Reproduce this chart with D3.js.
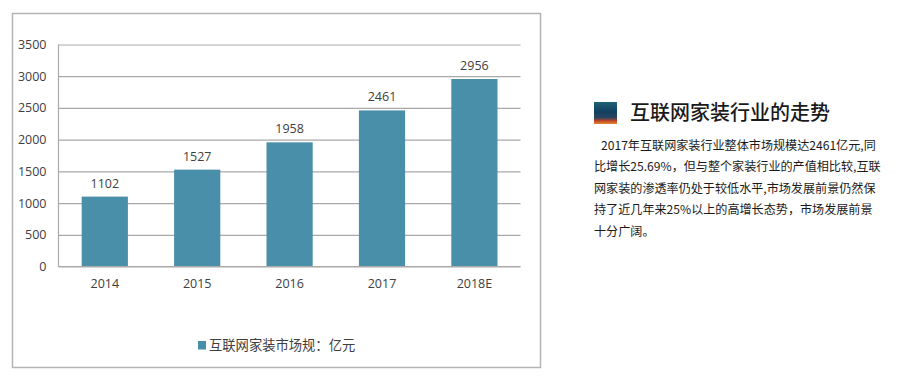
<!DOCTYPE html>
<html>
<head>
<meta charset="utf-8">
<script src="https://cdn.jsdelivr.net/npm/d3@7"></script>
<style>
  html, body { margin: 0; padding: 0; background: #fff; }
  svg { display: block; }
  text { font-family: "Open Sans", "Noto Sans CJK SC", sans-serif; }
  .cjk { font-family: "Noto Sans CJK SC", sans-serif; }
</style>
</head>
<body>
<script>
let years = ["2014", "2015", "2016", "2017", "2018E"]
let marketSize = [1102, 1527, 1958, 2461, 2956]
let yTicks = [0, 500, 1000, 1500, 2000, 2500, 3000, 3500]
let legendLabel = "互联网家装市场规：亿元"
let sideTitle = "互联网家装行业的走势"
let sideLines = [
  "2017年互联网家装行业整体市场规模达2461亿元,同",
  "比增长25.69%，但与整个家装行业的产值相比较,互联",
  "网家装的渗透率仍处于较低水平,市场发展前景仍然保",
  "持了近几年来25%以上的高增长态势，市场发展前景",
  "十分广阔。"
]

let barColor = "#4a8fa9"
let gridColor = "#a9a9a9"
let labelColor = "#404040"

let svg = d3.select("body")
  .append("svg")
  .attr("width", 903)
  .attr("height", 381)

// chart frame
svg.append("rect")
  .attr("x", 12.5)
  .attr("y", 13.5)
  .attr("width", 528)
  .attr("height", 354)
  .attr("fill", "#fff")
  .attr("stroke", "#b4b4b4")
  .attr("stroke-width", 1.5)

let scaleX = d3.scaleBand()
  .domain(years)
  .range([58.6, 520.6])
  .paddingInner(0.5)
  .paddingOuter(0.25)

let scaleY = d3.scaleLinear()
  .domain([0, 3500])
  .range([266.5, 44.5])

// y axis, the ticks are stretched into gridlines
let yAxis = svg.append("g")
  .attr("transform", "translate(58.5,0)")
  .call(d3.axisLeft(scaleY).tickValues(yTicks).tickSize(-462).tickPadding(12).tickFormat(d3.format("d")))
yAxis.selectAll("line").attr("stroke", gridColor).attr("stroke-width", 1.2)
yAxis.select(".domain").attr("stroke", gridColor).attr("stroke-width", 1.2).attr("d", "M0,44.5V266.5")
yAxis.selectAll("text")
  .attr("fill", labelColor)
  .style("font-size", "12.5px")
  .style("font-family", '"Open Sans", sans-serif')

// bars
svg.append("g")
  .selectAll("rect")
  .data(marketSize)
  .enter()
  .append("rect")
  .attr("x", (d, i) => scaleX(years[i]))
  .attr("y", d => scaleY(d))
  .attr("width", scaleX.bandwidth())
  .attr("height", d => scaleY(0) - scaleY(d))
  .attr("fill", barColor)

// value labels
svg.append("g")
  .selectAll("text")
  .data(marketSize)
  .enter()
  .append("text")
  .attr("x", (d, i) => scaleX(years[i]) + scaleX.bandwidth() / 2)
  .attr("y", d => scaleY(d) - 9)
  .attr("text-anchor", "middle")
  .attr("fill", labelColor)
  .style("font-size", "12.5px")
  .text(d => d)

// x axis
let xAxis = svg.append("g")
  .attr("transform", "translate(0,266.5)")
  .call(d3.axisBottom(scaleX).tickSize(0).tickPadding(13))
xAxis.select(".domain").attr("stroke", gridColor).attr("stroke-width", 1.2).attr("d", "M58.5,0H520.5")
xAxis.selectAll("text")
  .attr("fill", labelColor)
  .style("font-size", "12.5px")
  .style("font-family", '"Open Sans", sans-serif')

// legend
svg.append("rect")
  .attr("x", 198)
  .attr("y", 341)
  .attr("width", 8)
  .attr("height", 8.5)
  .attr("fill", barColor)

svg.append("text")
  .attr("class", "cjk")
  .attr("x", 209)
  .attr("y", 350)
  .attr("fill", labelColor)
  .style("font-size", "13.3px")
  .text(legendLabel)

// side panel icon
let iconGrad = svg.append("defs")
  .append("linearGradient")
  .attr("id", "iconGrad")
  .attr("x1", 0).attr("y1", 0).attr("x2", 0).attr("y2", 1)
let iconStops = [[0, "#1f6273"], [0.45, "#123f62"], [0.72, "#2c4560"], [0.85, "#c0432b"], [1, "#e08a2e"]]
iconStops.forEach(s => {
  iconGrad.append("stop").attr("offset", s[0]).attr("stop-color", s[1])
})

svg.append("rect")
  .attr("x", 594)
  .attr("y", 102)
  .attr("width", 23)
  .attr("height", 22)
  .attr("fill", "url(#iconGrad)")

svg.append("text")
  .attr("class", "cjk")
  .attr("x", 630)
  .attr("y", 120)
  .attr("fill", "#1a1a1a")
  .style("font-size", "20px")
  .style("font-weight", 500)
  .text(sideTitle)

svg.append("g")
  .selectAll("text")
  .data(sideLines)
  .enter()
  .append("text")
  .attr("class", "cjk")
  .attr("x", (d, i) => i == 0 ? 601 : 594)
  .attr("y", (d, i) => 150 + i * 21.4)
  .attr("fill", "#1a1a1a")
  .style("font-size", "12.1px")
  .text(d => d)
</script>
</body>
</html>
